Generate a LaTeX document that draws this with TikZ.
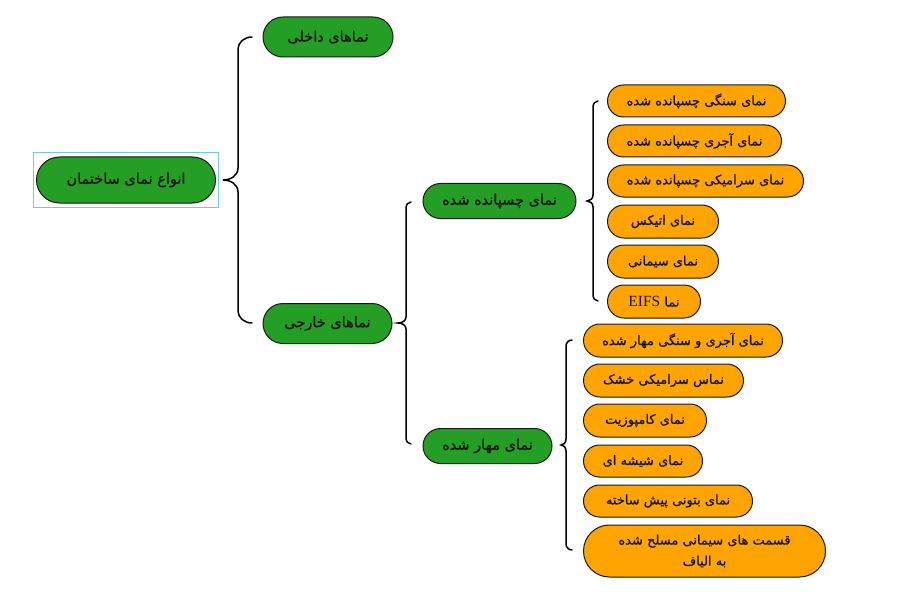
\documentclass[tikz,border=0pt]{standalone}
\usepackage{fontspec}
\newfontfamily\fa[Script=Arabic,FakeBold=1.2]{DejaVu Sans}
\newfontfamily\tnr{Liberation Serif}
\TeXXeTstate=1
\definecolor{gfill}{RGB}{36,158,36}
\definecolor{ofill}{RGB}{255,164,0}
\definecolor{selblue}{RGB}{110,200,235}
\definecolor{edgec}{RGB}{25,25,25}
\newcommand\fat[1]{{\fa\beginR #1\endR}}
\newcommand\brc[7]{%
  \draw[bracestyle] (#1,#4) .. controls ({#2+0.45*(#1-#2)},#4) and (#2,{#4+0.45*#7}) .. (#2,{#4+#7})
   -- (#2,{#5-#7}) .. controls (#2,{#5-0.35*#7}) and ({#3+0.5*(#2-#3)},#5) .. (#3,#5)
   .. controls ({#3+0.5*(#2-#3)},#5) and (#2,{#5+0.35*#7}) .. (#2,{#5+#7})
   -- (#2,{#6-#7}) .. controls (#2,{#6-0.45*#7}) and ({#2+0.45*(#1-#2)},#6) .. (#1,#6);}
\tikzset{
  bracestyle/.style={draw=black, line width=1.5pt, line cap=round},
  boxbase/.style 2 args={draw=edgec, line width=1pt, minimum width=#1pt, minimum height=#2pt,
     rounded corners={#2*0.5pt}, inner sep=0pt, text=edgec, align=center},
  gbox/.style 2 args={boxbase={#1}{#2}, fill=gfill, font=\fontsize{14.5}{18}\selectfont},
  obox/.style 2 args={boxbase={#1}{#2}, fill=ofill, anchor=west, font=\fontsize{13}{21}\selectfont},
}
\begin{document}
\begin{tikzpicture}[x=1pt,y=-1pt]
\useasboundingbox (0,0) rectangle (900,599);
% selection frame and root
\node[draw=selblue, line width=1pt, minimum width=185pt, minimum height=54pt, inner sep=0pt] (sel) at (125.5,180) {};
\node[gbox={179}{46}] (root) at (126,180) {\fat{انواع نمای ساختمان}};
% level 1
\node[gbox={130}{40}] (d1) at (328,37) {\fat{نماهای داخلی}};
\node[gbox={129}{40}] (d2) at (327.5,323.5) {\fat{نماهای خارجی}};
% level 2
\node[gbox={153}{35}] (c1) at (499.5,201) {\fat{نمای چسپانده شده}};
\node[gbox={129}{35}] (c2) at (487.5,446) {\fat{نمای مهار شده}};
% level 3, first group
\node[obox={178}{32}] (o1) at (607,101) {\fat{نمای سنگی چسپانده شده}};
\node[obox={174}{32}] (o2) at (607,141) {\fat{نمای آجری چسپانده شده}};
\node[obox={196}{32}] (o3) at (607,181) {\fat{نمای سرامیکی چسپانده شده}};
\node[obox={111}{33}] (o4) at (607,221.5) {\fat{نمای اتیکس}};
\node[obox={111}{33}] (o5) at (607,261.5) {\fat{نمای سیمانی}};
\node[obox={93}{33}] (o6) at (607,301.5) {\fat{نما \beginL{\tnr\fontsize{15.5}{17}\selectfont EIFS}\endL}};
% level 3, second group
\node[obox={199}{33}] (o7) at (583,340.5) {\fat{نمای آجری و سنگی مهار شده}};
\node[obox={160}{33}] (o8) at (583,380.5) {\fat{نماس سرامیکی خشک}};
\node[obox={123}{33}] (o9) at (583,420.5) {\fat{نمای کامپوزیت}};
\node[obox={119}{32}] (o10) at (583,461) {\fat{نمای شیشه ای}};
\node[obox={169}{32}] (o11) at (583,501) {\fat{نمای بتونی پیش ساخته}};
\node[obox={242}{52}] (o12) at (583,551) {\fat{قسمت های سیمانی مسلح شده}\\\fat{به الیاف}};
% braces
\brc{252}{238}{223}{37}{180}{323}{12}
\brc{411}{406}{398}{202}{323}{444}{6}
\brc{598}{593}{587}{101}{201}{301}{6}
\brc{572}{566}{561}{340}{445}{550}{6}
\end{tikzpicture}
\end{document}
